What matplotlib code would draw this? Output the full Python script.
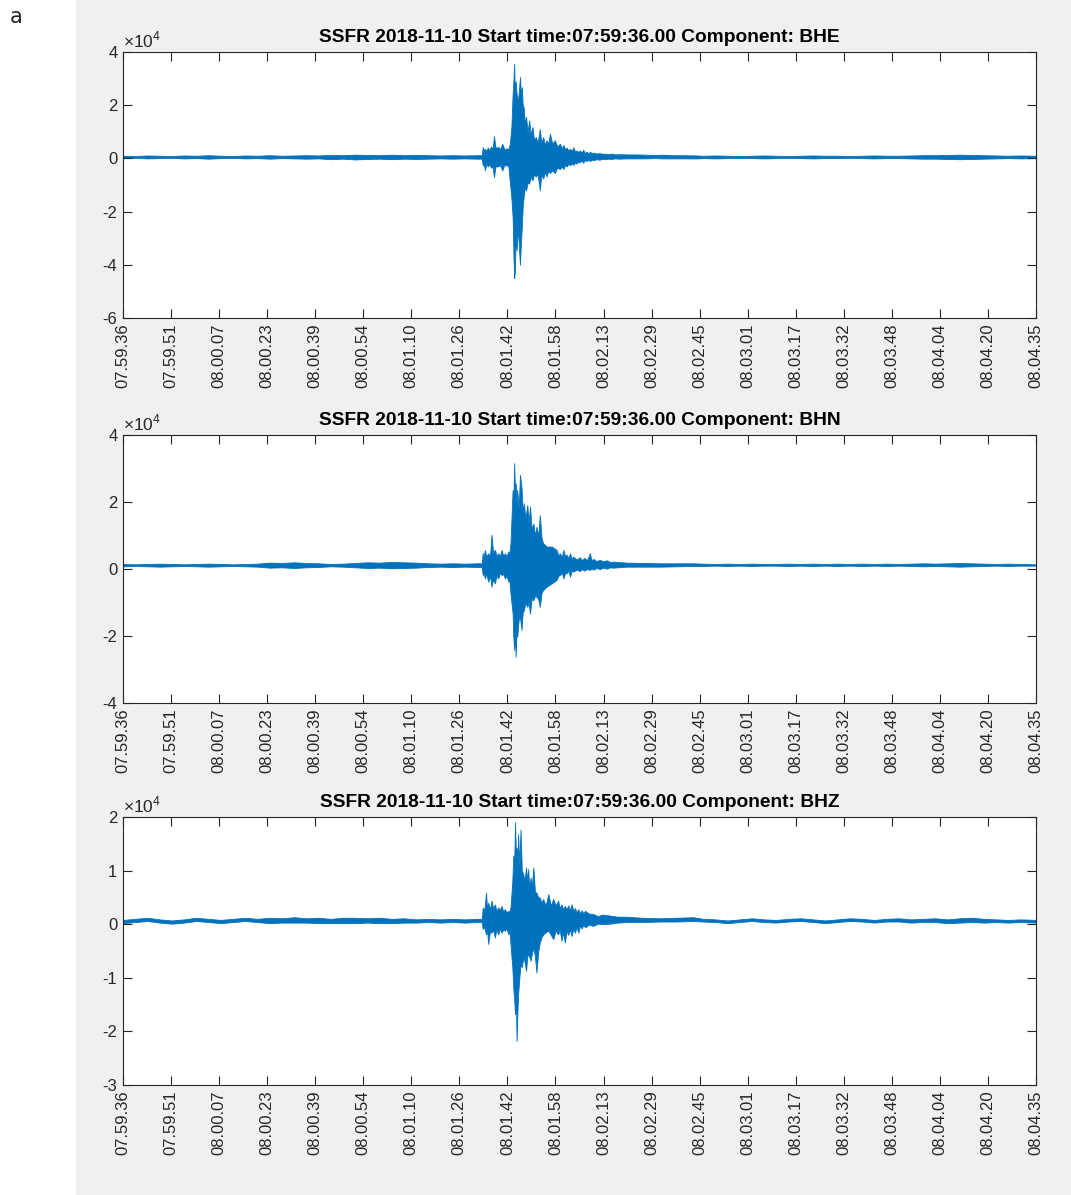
import numpy as np
import matplotlib
matplotlib.use('Agg')
import matplotlib.pyplot as plt
from matplotlib.patches import Rectangle

plt.rcParams['font.family'] = ['Liberation Sans', 'DejaVu Sans']
plt.rcParams['axes.unicode_minus'] = False
plt.rcParams['mathtext.fontset'] = 'custom'
plt.rcParams['mathtext.rm'] = 'Liberation Sans'

# ============================================
# Data (time in s from 07:59:36, amplitude in 1e4 counts)
# each trace: sample times, upper and lower excursion
# ============================================
tick_labels = ['07.59.36', '07.59.51', '08.00.07', '08.00.23', '08.00.39', '08.00.54',
               '08.01.10', '08.01.26', '08.01.42', '08.01.58', '08.02.13', '08.02.29',
               '08.02.45', '08.03.01', '08.03.17', '08.03.32', '08.03.48', '08.04.04',
               '08.04.20', '08.04.35']
duration = 299

components = ['BHE', 'BHN', 'BHZ']
y_ticks = [[-6, -4, -2, 0, 2, 4], [-4, -2, 0, 2, 4], [-3, -2, -1, 0, 1, 2]]

quiet_pre_t = [0, 4, 8, 12, 16, 20, 24, 28, 32, 36, 40, 44, 48, 52, 56, 60, 64, 68, 72, 76,
               80, 84, 88, 92, 96, 100, 104, 108, 112, 116]
quiet_post_t = [190, 194, 198, 202, 206, 210, 214, 218, 222, 226, 230, 234, 238, 242, 246,
                250, 254, 258, 262, 266, 270, 274, 278, 282, 286, 290, 294, 299]

# --- BHE ---
bhe_pre_hi = [0.10, 0.09, 0.11, 0.10, 0.09, 0.11, 0.10, 0.12, 0.10, 0.09, 0.11, 0.10, 0.12, 0.10, 0.11,
              0.12, 0.11, 0.13, 0.12, 0.14, 0.13, 0.12, 0.14, 0.12, 0.13, 0.12, 0.11, 0.12, 0.11, 0.12]
bhe_pre_lo = [0.01, 0.02, 0.00, 0.01, 0.02, 0.00, 0.01, -0.01, 0.01, 0.02, 0.00, 0.01, -0.01, 0.01, 0.00,
              -0.01, 0.00, -0.03, -0.01, -0.04, -0.02, -0.01, -0.03, -0.01, -0.02, -0.01, 0.00, -0.01, 0.00, -0.01]
bhe_ev_t = [117.5, 117.8, 118.2, 118.5, 119.0, 119.5, 120.0, 120.5, 121.0, 121.5, 122.0, 122.9,
            123.5, 124.2, 124.9, 125.6, 126.2, 126.7, 127.2, 127.6, 127.9, 128.1, 128.3, 128.6,
            128.9, 129.3, 129.7, 130.0, 130.3, 130.6, 130.9, 131.2, 131.6, 132.0, 132.5, 133.0,
            133.5, 134.1, 134.6, 135.2, 135.8, 136.5, 137.0, 137.6, 138.2, 138.7, 139.3, 139.8,
            140.6, 141.4, 142.2, 143.1, 143.7, 144.2, 144.8, 145.3, 145.9, 146.4, 147.0, 147.5,
            148.0, 148.5, 149.1, 149.6, 150.2, 150.7, 151.3, 151.8, 152.4, 153.0, 153.5, 154.0,
            155.0, 156.0, 157.0, 158.0, 159.0, 160.0, 161.0, 162.5, 165.0, 168.0, 171.0, 174.0,
            177.0, 180.0, 184.0, 188.0]
bhe_ev_hi = [0.12, 0.43, 0.30, 0.35, 0.30, 0.40, 0.30, 0.45, 0.35, 0.83, 0.40, 0.43,
             0.35, 0.55, 0.33, 0.38, 0.35, 0.55, 1.20, 2.43, 3.00, 3.56, 2.60, 2.90,
             2.43, 2.10, 2.60, 3.06, 2.40, 2.68, 2.00, 1.93, 1.30, 1.56, 1.00, 1.43,
             0.90, 1.18, 0.70, 0.80, 0.60, 1.10, 0.60, 0.80, 0.50, 0.68, 0.55, 0.93,
             0.55, 0.68, 0.45, 0.55, 0.38, 0.50, 0.35, 0.40, 0.30, 0.36, 0.28, 0.42,
             0.26, 0.30, 0.24, 0.30, 0.22, 0.32, 0.20, 0.25, 0.20, 0.25, 0.19, 0.22,
             0.18, 0.20, 0.17, 0.18, 0.16, 0.18, 0.15, 0.16, 0.15, 0.15, 0.14, 0.13,
             0.14, 0.12, 0.12, 0.11]
bhe_ev_lo = [-0.01, -0.26, -0.20, -0.45, -0.20, -0.30, -0.22, -0.35, -0.30, -0.70, -0.30, -0.30,
             -0.25, -0.45, -0.25, -0.26, -0.30, -0.89, -1.50, -2.20, -3.80, -4.50, -4.30, -3.00,
             -3.46, -2.60, -3.40, -4.00, -3.20, -2.60, -1.80, -1.45, -1.10, -1.20, -0.90, -0.95,
             -0.70, -0.82, -0.60, -0.68, -0.60, -1.20, -0.60, -0.76, -0.50, -0.68, -0.45, -0.55,
             -0.45, -0.55, -0.35, -0.40, -0.30, -0.40, -0.25, -0.30, -0.20, -0.26, -0.18, -0.25,
             -0.15, -0.20, -0.12, -0.15, -0.08, -0.16, -0.06, -0.10, -0.05, -0.10, -0.04, -0.07,
             -0.03, -0.05, -0.02, -0.03, -0.01, -0.02, 0.00, -0.01, 0.00, 0.00, 0.00, 0.01,
             0.00, 0.00, 0.00, 0.00]
bhe_post_hi = [0.10, 0.11, 0.10, 0.09, 0.10, 0.11, 0.10, 0.09, 0.10, 0.11, 0.10, 0.10, 0.09, 0.10,
               0.11, 0.10, 0.10, 0.11, 0.12, 0.12, 0.13, 0.14, 0.13, 0.12, 0.11, 0.10, 0.11, 0.10]
bhe_post_lo = [0.01, 0.00, 0.01, 0.02, 0.01, 0.00, 0.01, 0.02, 0.01, 0.00, 0.01, 0.01, 0.02, 0.01,
               0.00, 0.01, 0.01, 0.00, -0.01, -0.01, -0.02, -0.03, -0.02, -0.01, 0.00, 0.01, 0.00, 0.01]

# --- BHN ---
bhn_pre_hi = [0.15, 0.14, 0.15, 0.16, 0.15, 0.14, 0.15, 0.16, 0.15, 0.14, 0.15, 0.16, 0.19, 0.18,
              0.20, 0.18, 0.17, 0.15, 0.16, 0.18, 0.20, 0.19, 0.21, 0.20, 0.19, 0.17, 0.16, 0.17, 0.16, 0.17]
bhn_pre_lo = [0.08, 0.09, 0.08, 0.07, 0.08, 0.09, 0.08, 0.07, 0.08, 0.09, 0.08, 0.07, 0.04, 0.05,
              0.03, 0.05, 0.06, 0.08, 0.07, 0.05, 0.03, 0.04, 0.02, 0.03, 0.04, 0.06, 0.07, 0.06, 0.07, 0.06]
bhn_ev_t = [117.5, 117.8, 118.1, 118.5, 119.0, 119.6, 120.2, 120.7, 121.2, 121.8, 122.3, 122.9,
            123.4, 124.0, 124.5, 125.1, 125.6, 126.2, 126.5, 126.9, 127.6, 127.8, 128.1, 128.4,
            128.6, 128.9, 129.1, 129.6, 130.0, 130.5, 130.9, 131.3, 131.8, 132.4, 132.8, 133.3,
            133.8, 134.4, 134.9, 135.4, 136.0, 136.5, 137.1, 137.6, 138.7, 140.4, 142.0, 142.6,
            143.1, 143.7, 144.2, 144.8, 145.3, 145.9, 146.4, 147.0, 147.5, 148.5, 149.6, 150.3,
            151.0, 152.0, 152.9, 153.4, 154.0, 155.0, 156.2, 157.3, 158.4, 159.5, 160.5, 164.9,
            170.4, 175.8, 181.3, 186.7]
bhn_ev_hi = [0.17, 0.47, 0.35, 0.57, 0.38, 0.47, 0.40, 1.02, 0.50, 0.57, 0.40, 0.47,
             0.38, 0.57, 0.40, 0.47, 0.38, 0.52, 0.45, 0.77, 2.36, 1.80, 3.16, 2.20,
             2.56, 1.90, 2.36, 1.80, 2.81, 2.46, 1.70, 1.96, 1.50, 1.91, 1.40, 1.86,
             1.20, 1.36, 1.00, 1.26, 1.00, 1.61, 0.90, 0.77, 0.67, 0.67, 0.57, 0.40,
             0.47, 0.35, 0.57, 0.38, 0.43, 0.32, 0.47, 0.30, 0.37, 0.28, 0.35, 0.26,
             0.33, 0.27, 0.47, 0.26, 0.30, 0.24, 0.27, 0.23, 0.26, 0.21, 0.22, 0.19,
             0.18, 0.17, 0.17, 0.17]
bhn_ev_lo = [0.06, -0.18, -0.10, -0.28, -0.15, -0.38, -0.20, -0.53, -0.30, -0.43, -0.20, -0.28,
             -0.12, -0.18, -0.15, -0.28, -0.20, -0.38, -0.30, -0.73, -1.33, -2.00, -2.42, -2.00,
             -2.62, -1.80, -2.02, -1.50, -1.43, -1.82, -1.30, -1.23, -1.00, -1.13, -1.00, -1.33,
             -0.90, -0.93, -0.80, -0.83, -0.90, -1.13, -0.70, -0.63, -0.53, -0.43, -0.33, -0.20,
             -0.18, -0.10, -0.28, -0.12, -0.13, -0.05, -0.23, -0.04, -0.08, -0.02, -0.06, 0.00,
             -0.05, 0.00, -0.03, 0.02, -0.02, 0.03, 0.00, 0.04, 0.01, 0.05, 0.04, 0.07,
             0.07, 0.07, 0.08, 0.09]
bhn_post_hi = [0.16, 0.15, 0.16, 0.15, 0.16, 0.15, 0.15, 0.16, 0.15, 0.16, 0.15, 0.16, 0.15, 0.16,
               0.15, 0.16, 0.15, 0.16, 0.17, 0.16, 0.17, 0.18, 0.17, 0.16, 0.15, 0.16, 0.15, 0.14]
bhn_post_lo = [0.09, 0.10, 0.09, 0.10, 0.09, 0.10, 0.10, 0.09, 0.10, 0.09, 0.10, 0.09, 0.10, 0.09,
               0.10, 0.09, 0.10, 0.09, 0.08, 0.09, 0.08, 0.07, 0.08, 0.09, 0.10, 0.09, 0.10, 0.10]

# --- BHZ ---
bhz_pre_hi = [0.08, 0.10, 0.12, 0.09, 0.07, 0.09, 0.12, 0.10, 0.08, 0.10, 0.12, 0.10, 0.12, 0.11,
              0.13, 0.11, 0.12, 0.10, 0.12, 0.12, 0.11, 0.12, 0.10, 0.11, 0.09, 0.10, 0.09, 0.10, 0.09, 0.10]
bhz_pre_lo = [0.02, 0.04, 0.06, 0.03, 0.01, 0.03, 0.06, 0.04, 0.02, 0.04, 0.06, 0.04, 0.02, 0.03,
              0.03, 0.03, 0.02, 0.02, 0.02, 0.02, 0.03, 0.02, 0.02, 0.03, 0.03, 0.04, 0.03, 0.04, 0.03, 0.04]
bhz_ev_t = [117.5, 117.8, 118.3, 118.9, 119.2, 119.6, 120.2, 120.7, 121.2, 121.8, 122.3, 122.9,
            123.4, 124.0, 124.5, 125.1, 125.6, 126.2, 126.6, 126.9, 127.5, 127.8, 128.1, 128.4,
            128.7, 128.9, 129.2, 129.4, 129.8, 130.2, 130.6, 131.1, 131.5, 132.0, 132.4, 132.7,
            133.0, 133.5, 133.9, 134.4, 134.9, 135.4, 136.0, 136.5, 137.0, 137.6, 138.4, 139.3,
            140.1, 140.9, 141.7, 142.5, 143.0, 143.6, 144.1, 144.7, 145.3, 145.8, 146.4, 146.9,
            147.5, 148.0, 148.6, 149.1, 149.7, 150.2, 150.8, 151.3, 152.5, 154.0, 155.5, 157.0,
            159.5, 162.0, 164.9, 170.0, 175.8, 181.0, 186.7]
bhz_ev_hi = [0.10, 0.31, 0.25, 0.59, 0.30, 0.40, 0.28, 0.44, 0.30, 0.37, 0.25, 0.31,
             0.27, 0.34, 0.24, 0.28, 0.22, 0.25, 0.24, 0.31, 0.80, 1.28, 1.10, 1.90,
             1.20, 1.43, 1.20, 1.68, 1.10, 1.77, 1.00, 0.93, 0.80, 1.06, 0.80, 1.03,
             0.70, 0.87, 0.70, 1.06, 0.60, 0.59, 0.50, 0.50, 0.40, 0.47, 0.35, 0.56,
             0.35, 0.47, 0.35, 0.44, 0.30, 0.37, 0.28, 0.34, 0.28, 0.35, 0.26, 0.37,
             0.25, 0.30, 0.22, 0.28, 0.20, 0.26, 0.20, 0.25, 0.20, 0.19, 0.15, 0.18,
             0.16, 0.14, 0.14, 0.12, 0.11, 0.12, 0.13]
bhz_ev_lo = [0.04, -0.09, -0.05, -0.19, -0.10, -0.37, -0.12, -0.16, -0.10, -0.25, -0.10, -0.19,
             -0.08, -0.16, -0.10, -0.12, -0.08, -0.19, -0.12, -0.37, -0.80, -1.18, -1.40, -1.68,
             -1.50, -2.18, -1.60, -1.30, -1.00, -0.75, -0.80, -0.62, -0.70, -0.87, -0.60, -0.56,
             -0.60, -0.68, -0.55, -0.44, -0.60, -0.90, -0.50, -0.34, -0.25, -0.19, -0.15, -0.12,
             -0.20, -0.28, -0.12, -0.19, -0.10, -0.31, -0.15, -0.34, -0.12, -0.20, -0.10, -0.22,
             -0.08, -0.16, -0.05, -0.16, -0.02, -0.08, -0.01, -0.06, -0.01, -0.03, 0.01, 0.00,
             0.01, 0.03, 0.04, 0.04, 0.05, 0.05, 0.06]
bhz_post_hi = [0.10, 0.09, 0.07, 0.09, 0.11, 0.09, 0.08, 0.10, 0.11, 0.09, 0.07, 0.09, 0.11, 0.10,
               0.08, 0.10, 0.11, 0.09, 0.10, 0.11, 0.09, 0.11, 0.12, 0.10, 0.09, 0.08, 0.09, 0.08]
bhz_post_lo = [0.05, 0.04, 0.02, 0.04, 0.06, 0.04, 0.03, 0.05, 0.06, 0.04, 0.02, 0.04, 0.06, 0.05,
               0.03, 0.05, 0.05, 0.03, 0.04, 0.04, 0.02, 0.03, 0.04, 0.03, 0.04, 0.03, 0.04, 0.03]

traces = [
    (bhe_pre_hi, bhe_pre_lo, bhe_ev_t, bhe_ev_hi, bhe_ev_lo, bhe_post_hi, bhe_post_lo),
    (bhn_pre_hi, bhn_pre_lo, bhn_ev_t, bhn_ev_hi, bhn_ev_lo, bhn_post_hi, bhn_post_lo),
    (bhz_pre_hi, bhz_pre_lo, bhz_ev_t, bhz_ev_hi, bhz_ev_lo, bhz_post_hi, bhz_post_lo),
]

# ============================================
# Figure
# ============================================
W, H = 1071, 1195
fig = plt.figure(figsize=(W / 100, H / 100), dpi=100, facecolor='white')
fig.patches.append(Rectangle((76 / W, 0), 1 - 76 / W, 1, transform=fig.transFigure,
                             facecolor='#f0f0f0', edgecolor='none', zorder=-10))
fig.text(10 / W, 1 - 17 / H, 'a', fontsize=15, va='center', ha='left', color='#222222',
         family=['DejaVu Sans'])

ax_boxes = [(52, 318), (435, 703), (817, 1085)]  # top, bottom in px
left_px, right_px = 123, 1036
dark = '#262626'
line_color = '#0072BD'

for i, (comp, yt, tr) in enumerate(zip(components, y_ticks, traces)):
    top, bot = ax_boxes[i]
    ax = fig.add_axes([left_px / W, 1 - bot / H, (right_px - left_px) / W, (bot - top) / H])
    ax.set_facecolor('white')

    pre_hi, pre_lo, ev_t, ev_hi, ev_lo, post_hi, post_lo = tr
    t = np.concatenate([quiet_pre_t, ev_t, quiet_post_t])
    hi = np.concatenate([pre_hi, ev_hi, post_hi])
    lo = np.concatenate([pre_lo, ev_lo, post_lo])
    # trace drawn as its min/max band
    ax.fill_between(t, lo, hi, facecolor=line_color, edgecolor=line_color, lw=0.6)

    ax.set_xlim(0, duration)
    ax.set_ylim(yt[0], yt[-1])
    ax.set_xticks(np.linspace(0, duration, len(tick_labels)))
    ax.set_xticklabels(tick_labels, rotation=90, fontsize=12, color=dark)
    ax.set_yticks(yt)
    ax.set_yticklabels([str(v) for v in yt], fontsize=12, color=dark)
    ax.tick_params(direction='in', length=6.5, width=0.8, top=True, right=True,
                   colors=dark, pad=4)
    for s in ax.spines.values():
        s.set_color(dark)
        s.set_linewidth(0.8)

    ax.set_title(f'SSFR 2018-11-10 Start time:07:59:36.00 Component: {comp}',
                 fontsize=13.8, fontweight='bold', pad=7, color='black')
    ax.text(0, 1.006, r'$\times10^4$', transform=ax.transAxes, ha='left', va='bottom',
            fontsize=12.5, color=dark)

plt.savefig('out.png', dpi=100, facecolor=fig.get_facecolor())
print("saved out.png")
